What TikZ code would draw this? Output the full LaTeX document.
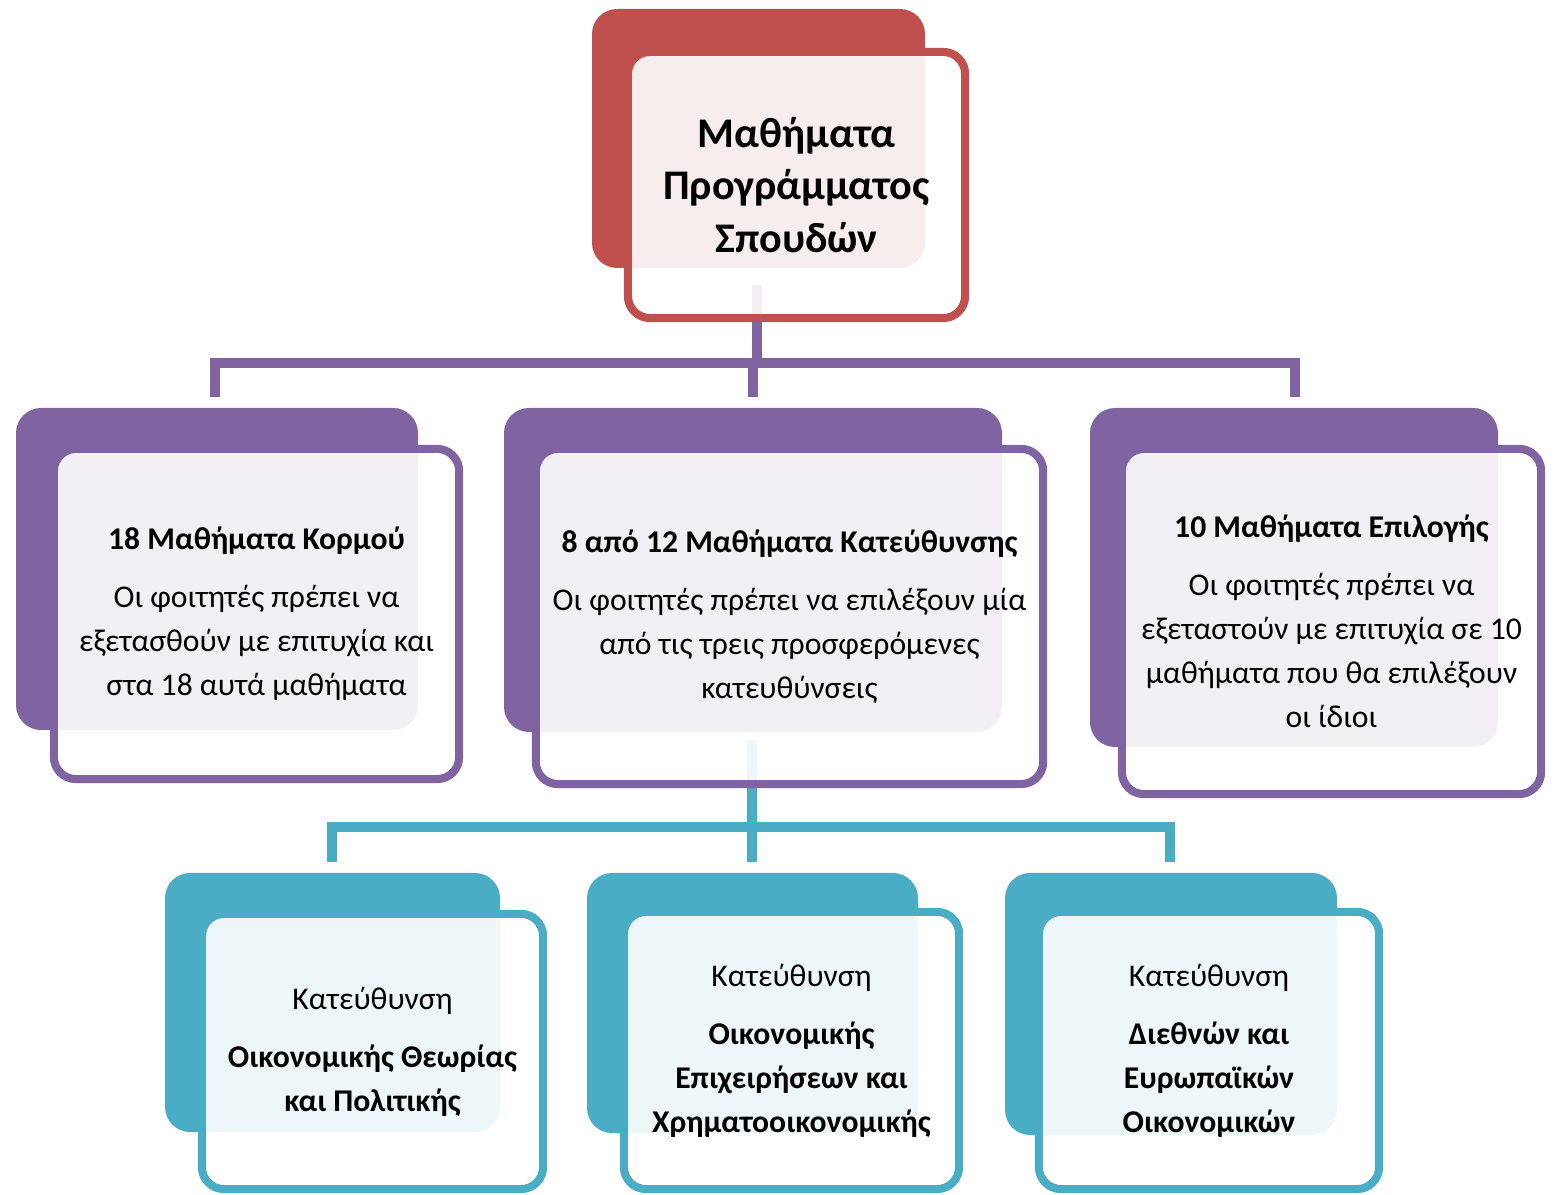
\documentclass[tikz,border=0pt]{standalone}
\usepackage{fontspec}
\setmainfont{Carlito}

\definecolor{redcard}{HTML}{C0504D}
\definecolor{purplecard}{HTML}{8064A2}
\definecolor{tealcard}{HTML}{4BACC6}

\tikzset{
    backcard/.style={fill=#1, rounded corners=0.25cm},
    frontcard/.style={draw=#1, line width=2.3pt, fill=white, fill opacity=0.9,
        text opacity=1, rounded corners=0.22cm, align=center, inner sep=0pt},
    branch/.style={draw=#1, line width=2.6pt},
    bodytext/.style={font=\fontsize{9}{12.5}\selectfont},
}

\begin{document}
\begin{tikzpicture}[x=0.01cm, y=-0.01cm]
        \useasboundingbox (0,0) rectangle (1557,1195);

        % back cards
        \fill[backcard=redcard] (592,9) rectangle (925,268);
        \fill[backcard=purplecard] (16,408) rectangle (418,730);
        \fill[backcard=purplecard] (504,408) rectangle (1002,732);
        \fill[backcard=purplecard] (1090,408) rectangle (1498,747);
        \fill[backcard=tealcard] (165,873) rectangle (500,1132);
        \fill[backcard=tealcard] (587,873) rectangle (918,1133);
        \fill[backcard=tealcard] (1005,873) rectangle (1337,1135);

        % connectors
        \coordinate (progstem) at (757,285);
        \coordinate (hubtop) at (757,363);
        \coordinate (coretip) at (215,397);
        \coordinate (dirtip) at (753,397);
        \coordinate (electtip) at (1295,397);
        \draw[branch=purplecard] (progstem) -- (hubtop);
        \draw[branch=purplecard] (coretip) |- (hubtop) -| (electtip);
        \draw[branch=purplecard] (hubtop -| dirtip) -- (dirtip);

        \coordinate (dirstem) at (752,740);
        \coordinate (hubmid) at (752,827);
        \coordinate (theorytip) at (332,862);
        \coordinate (financetip) at (752,862);
        \coordinate (europetip) at (1170,862);
        \draw[branch=tealcard] (dirstem) -- (financetip);
        \draw[branch=tealcard] (theorytip) |- (hubmid) -| (europetip);

        % front cards
        \node[frontcard=redcard, minimum width=3.37cm, minimum height=2.66cm,
            font=\fontsize{12}{15}\selectfont\bfseries] (prog) at (796.5,185)
            {Μαθήματα\\Προγράμματος\\Σπουδών};

        \node[frontcard=purplecard, bodytext, minimum width=4.05cm, minimum height=3.30cm]
            (core) at (256.5,614)
            {\textbf{18 Μαθήματα Κορμού}\\[4pt]
             Οι φοιτητές πρέπει να\\ εξετασθούν με επιτυχία και\\ στα 18 αυτά μαθήματα};
        \node[frontcard=purplecard, bodytext, minimum width=5.07cm, minimum height=3.35cm]
            (dir) at (789.5,616.5)
            {\textbf{8 από 12 Μαθήματα Κατεύθυνσης}\\[4pt]
             Οι φοιτητές πρέπει να επιλέξουν μία\\ από τις τρεις προσφερόμενες\\ κατευθύνσεις};
        \node[frontcard=purplecard, bodytext, minimum width=4.19cm, minimum height=3.45cm]
            (elect) at (1331.5,621.5)
            {\textbf{10 Μαθήματα Επιλογής}\\[4pt]
             Οι φοιτητές πρέπει να\\ εξεταστούν με επιτυχία σε 10\\ μαθήματα που θα επιλέξουν\\ οι ίδιοι};

        \node[frontcard=tealcard, bodytext, minimum width=3.41cm, minimum height=2.75cm]
            (theory) at (372.5,1051.5)
            {Κατεύθυνση\\[4pt] \textbf{Οικονομικής Θεωρίας}\\ \textbf{και Πολιτικής}};
        \node[frontcard=tealcard, bodytext, minimum width=3.35cm, minimum height=2.77cm]
            (finance) at (791.5,1050.5)
            {Κατεύθυνση\\[4pt] \textbf{Οικονομικής}\\ \textbf{Επιχειρήσεων και}\\ \textbf{Χρηματοοικονομικής}};
        \node[frontcard=tealcard, bodytext, minimum width=3.40cm, minimum height=2.77cm]
            (europe) at (1209,1050.5)
            {Κατεύθυνση\\[4pt] \textbf{Διεθνών και}\\ \textbf{Ευρωπαϊκών}\\ \textbf{Οικονομικών}};
    \end{tikzpicture}
\end{document}
